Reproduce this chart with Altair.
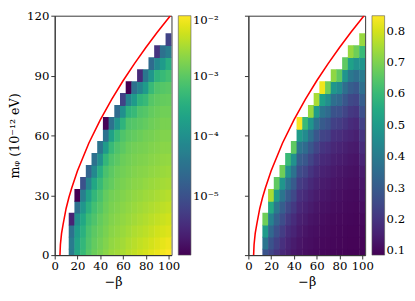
import altair as alt
import pandas as pd

# grid of the heat maps (cell centres)
beta_cols = [15, 20, 25, 30, 35, 40, 45, 50, 55, 60, 65, 70, 75, 80, 85, 90, 95, 100]
m_rows = [0, 6, 12, 18, 24, 30, 36, 42, 48, 54, 60, 66, 72, 78, 84, 90, 96, 102, 108]

# left panel: log10 of the plotted value, column by column, rows from m=0 upward
left_log10 = [
    [-4.35, -4.35, -4.5, -5.6],
    [-3.6, -3.65, -3.75, -4.0, -4.5, -6.0],
    [-3.3, -3.35, -3.45, -3.6, -3.9, -4.3, -5.0],
    [-3.05, -3.1, -3.15, -3.25, -3.45, -3.7, -4.2, -4.7],
    [-2.9, -2.95, -3.0, -3.1, -3.2, -3.35, -3.6, -4.1, -4.5],
    [-2.8, -2.85, -2.9, -2.95, -3.05, -3.15, -3.3, -3.5, -4.0, -4.45],
    [-2.7, -2.75, -2.8, -2.85, -2.9, -2.95, -3.05, -3.15, -3.35, -3.8, -4.5, -5.95],
    [-2.6, -2.65, -2.7, -2.75, -2.8, -2.85, -2.95, -3.0, -3.1, -3.3, -3.7, -4.5],
    [-2.55, -2.6, -2.65, -2.7, -2.75, -2.8, -2.85, -2.9, -3.0, -3.1, -3.3, -3.9, -4.6],
    [-2.5, -2.55, -2.6, -2.65, -2.7, -2.75, -2.8, -2.85, -2.9, -3.0, -3.1, -3.4, -4.0, -5.2],
    [-2.42, -2.48, -2.54, -2.6, -2.65, -2.7, -2.75, -2.8, -2.85, -2.9, -3.0, -3.1, -3.4, -4.2, -6.0],
    [-2.36, -2.42, -2.48, -2.55, -2.6, -2.65, -2.7, -2.75, -2.8, -2.85, -2.95, -3.05, -3.3, -3.8, -4.5],
    [-2.3, -2.37, -2.44, -2.5, -2.56, -2.62, -2.68, -2.72, -2.77, -2.82, -2.9, -3.0, -3.1, -3.4, -4.2, -5.5],
    [-2.25, -2.32, -2.4, -2.46, -2.52, -2.58, -2.64, -2.7, -2.75, -2.8, -2.85, -2.95, -3.05, -3.3, -3.8, -4.4],
    [-2.18, -2.26, -2.34, -2.41, -2.48, -2.55, -2.6, -2.66, -2.71, -2.76, -2.82, -2.88, -2.95, -3.05, -3.3, -3.9, -4.6],
    [-2.12, -2.2, -2.28, -2.36, -2.44, -2.51, -2.57, -2.63, -2.68, -2.73, -2.78, -2.84, -2.9, -2.98, -3.1, -3.4, -4.1, -5.4],
    [-2.06, -2.15, -2.24, -2.32, -2.4, -2.47, -2.54, -2.6, -2.65, -2.7, -2.75, -2.8, -2.86, -2.94, -3.05, -3.3, -3.8, -4.5],
    [-2.0, -2.1, -2.2, -2.28, -2.36, -2.44, -2.52, -2.58, -2.64, -2.7, -2.75, -2.8, -2.86, -2.93, -3.02, -3.2, -3.5, -4.3, -5.2],
]

# right panel: linear values, same layout
right_vals = [
    [0.28, 0.38, 0.5, 0.68],
    [0.24, 0.28, 0.34, 0.42, 0.55, 0.75],
    [0.2, 0.23, 0.27, 0.32, 0.39, 0.5, 0.66],
    [0.17, 0.19, 0.22, 0.26, 0.31, 0.38, 0.48, 0.68],
    [0.15, 0.16, 0.18, 0.21, 0.25, 0.3, 0.37, 0.47, 0.6],
    [0.13, 0.14, 0.16, 0.18, 0.21, 0.25, 0.3, 0.37, 0.47, 0.66],
    [0.12, 0.125, 0.135, 0.15, 0.17, 0.19, 0.22, 0.26, 0.31, 0.38, 0.5, 0.84],
    [0.11, 0.115, 0.125, 0.14, 0.155, 0.175, 0.2, 0.24, 0.29, 0.35, 0.45, 0.6],
    [0.105, 0.11, 0.115, 0.125, 0.14, 0.155, 0.175, 0.2, 0.24, 0.29, 0.36, 0.48, 0.73],
    [0.1, 0.104, 0.11, 0.118, 0.127, 0.14, 0.155, 0.175, 0.2, 0.24, 0.29, 0.37, 0.5, 0.75],
    [0.097, 0.1, 0.105, 0.11, 0.118, 0.128, 0.14, 0.155, 0.175, 0.2, 0.24, 0.3, 0.38, 0.52, 0.83],
    [0.095, 0.098, 0.102, 0.107, 0.114, 0.123, 0.134, 0.148, 0.167, 0.19, 0.23, 0.28, 0.35, 0.46, 0.68],
    [0.093, 0.096, 0.099, 0.103, 0.108, 0.115, 0.124, 0.135, 0.15, 0.168, 0.19, 0.23, 0.28, 0.36, 0.49, 0.72],
    [0.091, 0.094, 0.097, 0.101, 0.106, 0.112, 0.12, 0.13, 0.143, 0.16, 0.185, 0.22, 0.27, 0.34, 0.45, 0.66],
    [0.09, 0.092, 0.095, 0.098, 0.102, 0.107, 0.114, 0.123, 0.135, 0.15, 0.17, 0.2, 0.24, 0.29, 0.36, 0.48, 0.66],
    [0.089, 0.091, 0.093, 0.096, 0.1, 0.105, 0.11, 0.118, 0.128, 0.14, 0.16, 0.18, 0.21, 0.25, 0.31, 0.39, 0.52, 0.73],
    [0.088, 0.09, 0.092, 0.095, 0.098, 0.102, 0.108, 0.115, 0.124, 0.136, 0.15, 0.17, 0.2, 0.24, 0.29, 0.36, 0.47, 0.68],
    [0.088, 0.09, 0.095, 0.1, 0.11, 0.12, 0.13, 0.14, 0.16, 0.18, 0.2, 0.23, 0.27, 0.31, 0.36, 0.4, 0.48, 0.6, 0.73],
]

# red boundary curve
curve_beta = [4.6, 5.0, 6.0, 7.4, 10, 12.5, 15, 20, 30, 40, 50, 60, 70, 80, 90, 101.5]
curve_m = [0, 5.3, 10.9, 15.5, 23.4, 29, 33.8, 42.3, 56.2, 67.8, 78.1, 87.4, 96.0, 104.1, 111.7, 120]

x_ticks = [0, 20, 40, 60, 80, 100]
y_ticks = [0, 30, 60, 90, 120]
left_legend_ticks = [1e-5, 1e-4, 1e-3, 1e-2]
right_legend_ticks = [0.1, 0.2, 0.3, 0.4, 0.5, 0.6, 0.7, 0.8]
half_w, half_h = 2.5, 3
seam = 0.2  # tiny overlap so adjacent cells show no hairline gaps

records = []
for b, lcol, rcol in zip(beta_cols, left_log10, right_vals):
    for m, le, rv in zip(m_rows, lcol, rcol):
        records.append({
            "x0": b - half_w - seam, "x1": b + half_w + seam,
            "y0": max(m - half_h - seam, 0), "y1": m + half_h + seam,
            "left": 10 ** le, "right": rv,
        })
cells = pd.DataFrame(records)
curve = pd.DataFrame({"b": curve_beta, "m": curve_m})

W, H = 120, 246
FONT = "DejaVu Serif"
xs = alt.Scale(domain=[0, 102.5], nice=False, zero=False)
ys = alt.Scale(domain=[0, 120], nice=False, zero=False)
xtitle = "−β"
ytitle = "mᵩ (10⁻¹² eV)"


def panel(field, cscale, legend, show_ylabels):
    if show_ylabels:
        yaxis = alt.Axis(values=y_ticks, title=ytitle, grid=False, titlePadding=5)
    else:
        yaxis = alt.Axis(values=y_ticks, title=None, labels=False, grid=False)
    xaxis = alt.Axis(values=x_ticks, title=xtitle, grid=False, labelOverlap=False,
                     labelFlush=False, titlePadding=4)
    heat = alt.Chart(cells).mark_rect(clip=True).encode(
        x=alt.X("x0:Q", scale=xs, axis=xaxis),
        x2="x1:Q",
        y=alt.Y("y0:Q", scale=ys, axis=yaxis),
        y2="y1:Q",
        color=alt.Color(f"{field}:Q", scale=cscale, legend=legend),
    )
    line = alt.Chart(curve).mark_line(color="#ff0000", strokeWidth=1.6, clip=True).encode(
        x=alt.X("b:Q", scale=xs, axis=xaxis),
        y=alt.Y("m:Q", scale=ys, axis=yaxis),
    )
    return alt.layer(heat, line).properties(width=W, height=H)


lscale = alt.Scale(type="log", scheme="viridis", domain=[1.05e-6, 1e-2])
rscale = alt.Scale(type="linear", scheme="viridis", domain=[0.085, 0.848])

llegend = alt.Legend(
    type="gradient", title=None, values=left_legend_ticks, gradientLength=H,
    gradientThickness=13, offset=7, padding=0, direction="vertical",
    labelExpr="datum.value > 0.005 ? '10⁻²' : datum.value > 0.0005 ? '10⁻³' : datum.value > 0.00005 ? '10⁻⁴' : '10⁻⁵'",
)
rlegend = alt.Legend(
    type="gradient", title=None, values=right_legend_ticks, gradientLength=H,
    gradientThickness=13, offset=7, padding=0, direction="vertical", format=".1f",
)

left = panel("left", lscale, llegend, True)
right = panel("right", rscale, rlegend, False)

chart = alt.hconcat(left, right, spacing=24).resolve_scale(
    color="independent"
).resolve_legend(color="independent").properties(
    padding={"left": 0, "top": -3, "right": 0, "bottom": 0}
).configure_view(stroke="#333", strokeWidth=1).configure_axis(
    labelFont=FONT, titleFont=FONT, labelFontSize=12, titleFontSize=13,
    labelColor="black", titleColor="black", tickColor="#333", domainColor="#333",
    tickSize=4, labelPadding=2, titleFontWeight="normal", labelOverlap=False,
).configure_legend(
    labelFont=FONT, labelFontSize=12, labelColor="black", labelOffset=4,
    gradientStrokeColor="#555", gradientStrokeWidth=0.6, labelOverlap=False,
)

chart.save("out.html", embed_options={"renderer": "svg", "actions": False})
